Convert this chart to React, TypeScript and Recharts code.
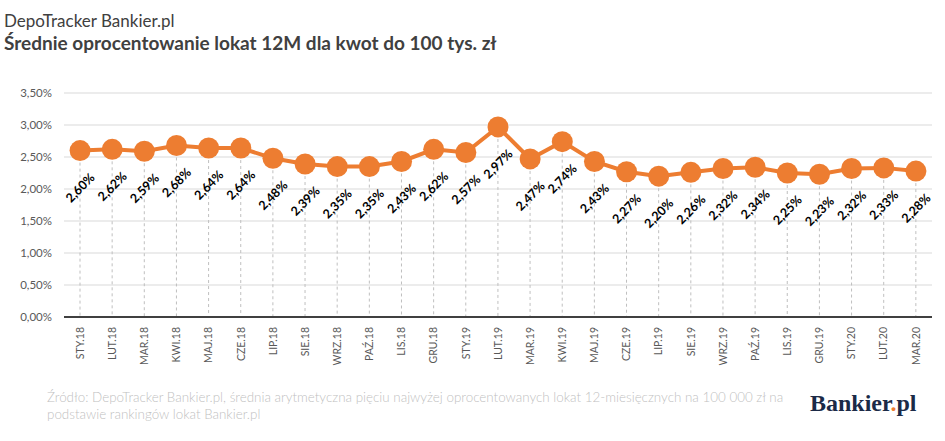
import React from "react";
import { ComposedChart, Line, Bar, XAxis, YAxis, CartesianGrid, LabelList } from "recharts";

const categories = [
  "STY.18", "LUT.18", "MAR.18", "KWI.18", "MAJ.18", "CZE.18", "LIP.18", "SIE.18", "WRZ.18",
  "PAŹ.18", "LIS.18", "GRU.18", "STY.19", "LUT.19", "MAR.19", "KWI.19", "MAJ.19", "CZE.19",
  "LIP.19", "SIE.19", "WRZ.19", "PAŹ.19", "LIS.19", "GRU.19", "STY.20", "LUT.20", "MAR.20",
];
const rates = [
  2.60, 2.62, 2.59, 2.68, 2.64, 2.64, 2.48, 2.39, 2.35,
  2.35, 2.43, 2.62, 2.57, 2.97, 2.47, 2.74, 2.43, 2.27,
  2.20, 2.26, 2.32, 2.34, 2.25, 2.23, 2.32, 2.33, 2.28,
];
const yTicks = [0, 0.5, 1, 1.5, 2, 2.5, 3, 3.5];

const titleTop = "DepoTracker Bankier.pl";
const titleMain = "Średnie oprocentowanie lokat 12M dla kwot do 100 tys. zł";
const sourceLine1 = "Źródło: DepoTracker Bankier.pl, średnia arytmetyczna pięciu najwyżej oprocentowanych lokat 12-miesięcznych na 100 000 zł na";
const sourceLine2 = "podstawie rankingów lokat Bankier.pl";

const data = categories.map((c, i) => ({ month: c, rate: rates[i] }));

const FONT = "Lato, 'Open Sans', sans-serif";
const ORANGE = "#ED7D31";

const fmt = (v: number) => v.toFixed(2).replace(".", ",") + "%";

const XTick = (props: any) => {
  const { x, y, payload } = props;
  return (
    <g transform={`translate(${x},${y})`}>
      <text
        transform="rotate(-90)"
        textAnchor="end"
        dy="0.35em"
        fill="#595959"
        fontSize={10.5}
        fontFamily={FONT}
      >
        {payload.value}
      </text>
    </g>
  );
};

const DropLine = (props: any) => {
  const { x, y, width, height } = props;
  if (x == null || y == null) return <g />;
  const cx = x + width / 2;
  return (
    <line x1={cx} x2={cx} y1={y} y2={y + height} stroke="#bfbfbf" strokeWidth={1} strokeDasharray="3 3" />
  );
};

const ValueLabel = (props: any) => {
  const { x, y, value } = props;
  const ly = y + 37;
  return (
    <text
      x={x}
      y={ly}
      transform={`rotate(-45, ${x}, ${ly})`}
      textAnchor="middle"
      dominantBaseline="central"
      fontSize={12.5}
      fontWeight={700}
      fontFamily={FONT}
      fill="#000"
    >
      {fmt(value)}
    </text>
  );
};

export default function App() {
  return (
    <div style={{ position: "absolute", left: 0, top: 0, width: 945, height: 441, background: "#fff", fontFamily: FONT }}>
      <div style={{ position: "absolute", left: 4, top: 10, fontSize: 17, color: "#404040", whiteSpace: "nowrap", lineHeight: "22px" }}>
        {titleTop}
      </div>
      <div style={{ position: "absolute", left: 4, top: 31, fontSize: 19, fontWeight: 700, color: "#404040", whiteSpace: "nowrap", lineHeight: "24px" }}>
        {titleMain}
      </div>
      <ComposedChart
        width={945}
        height={441}
        data={data}
        margin={{ top: 93, right: 13, bottom: 0, left: 0 }}
      >
        <CartesianGrid vertical={false} stroke="#d9d9d9" strokeWidth={1} />
        <XAxis
          dataKey="month"
          interval={0}
          height={124}
          tickLine={false}
          tickSize={6}
          tickMargin={4}
          axisLine={{ stroke: "#404040", strokeWidth: 2 }}
          tick={<XTick />}
        />
        <YAxis
          domain={[0, 3.5]}
          ticks={yTicks}
          width={64}
          tickLine={false}
          axisLine={false}
          tickSize={6}
          tickMargin={6}
          tickFormatter={fmt}
          tick={{ fill: "#595959", fontSize: 11.5, fontFamily: FONT }}
        />
        <Bar dataKey="rate" barSize={2} shape={<DropLine />} isAnimationActive={false} />
        <Line
          dataKey="rate"
          stroke={ORANGE}
          strokeWidth={4}
          dot={{ r: 10.5, fill: ORANGE, stroke: "none" }}
          activeDot={false}
          isAnimationActive={false}
        >
          <LabelList dataKey="rate" content={<ValueLabel />} />
        </Line>
      </ComposedChart>
      <div style={{ position: "absolute", left: 47, top: 389, fontSize: 13.4, fontWeight: 300, color: "#bfbfbf", whiteSpace: "nowrap", lineHeight: "17px" }}>
        {sourceLine1}
        <br />
        {sourceLine2}
      </div>
      <div style={{ position: "absolute", left: 810, top: 389, fontSize: 24, fontWeight: 700, color: "#1b2a47", fontFamily: "'Liberation Serif', serif", whiteSpace: "nowrap", lineHeight: "28px" }}>
        Bankier<span style={{ color: ORANGE }}>.</span>pl
      </div>
    </div>
  );
}
